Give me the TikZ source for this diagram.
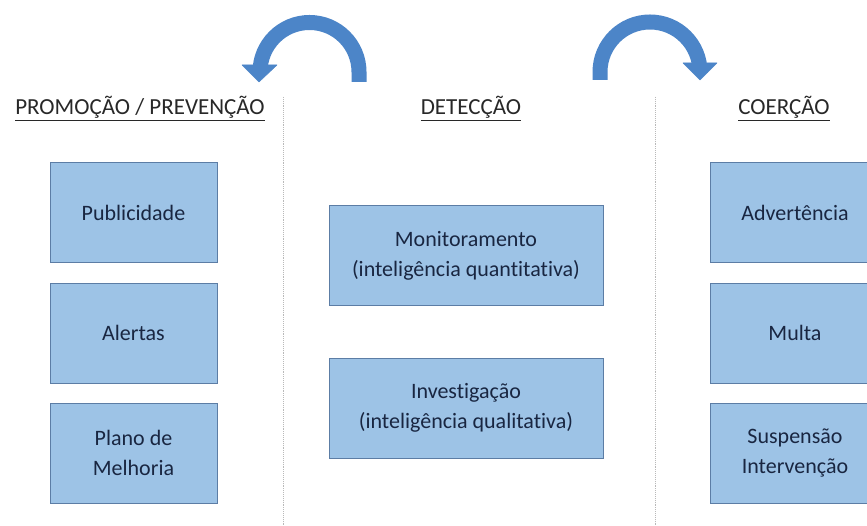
\documentclass[tikz,border=0pt]{standalone}
\usepackage{fontspec}
\setmainfont{Carlito}[Ligatures=NoCommon]
\begin{document}
\begin{tikzpicture}[x=1pt,y=1pt,
  boxstyle/.style={draw=boxedge,fill=boxfill,line width=0.9pt,inner sep=0pt,
    text=boxtext,align=center,font=\fontsize{22}{30}\selectfont},
  headstyle/.style={text=headtext,anchor=base,inner sep=0pt,font=\fontsize{23}{26}\selectfont},
  divider/.style={draw=gray!55,line width=0.9pt,densely dotted},
  bendarrow/.style={draw=arrowblue,line width=15pt},
  headtip/.style={fill=arrowblue,draw=arrowblue,line width=0.5pt,line join=round}]
\definecolor{boxfill}{RGB}{157,195,230}
\definecolor{boxedge}{RGB}{92,125,165}
\definecolor{boxtext}{RGB}{25,38,65}
\definecolor{headtext}{RGB}{40,40,40}
\definecolor{arrowblue}{RGB}{76,133,200}
\useasboundingbox (0,0) rectangle (867,526);
\clip (0,0) rectangle (867,526);
\fill[white] (0,0) rectangle (867,526);

% dividers
\coordinate (d1t) at (283,429);
\coordinate (d1b) at (283,0);
\coordinate (d2t) at (655,429);
\coordinate (d2b) at (655,0);
\draw[divider] (d1t) -- (d1b);
\draw[divider] (d2t) -- (d2b);

% headers
\node[headstyle] (h1) at (140,411) {\underline{PROMOÇÃO / PREVENÇÃO}};
\node[headstyle] (h2) at (471,411) {\underline{DETECÇÃO}};
\node[headstyle] (h3) at (784,411) {\underline{COERÇÃO}};

% left column
\node[boxstyle,minimum width=167,minimum height=100] (pub) at (133.5,313.5) {Publicidade};
\node[boxstyle,minimum width=167,minimum height=100] (ale) at (133.5,193) {Alertas};
\node[boxstyle,minimum width=167,minimum height=100] (pla) at (133.5,73) {Plano de\\Melhoria};

% middle column
\node[boxstyle,minimum width=274,minimum height=100] (mon) at (466,270.5) {Monitoramento\\(inteligência quantitativa)};
\node[boxstyle,minimum width=274,minimum height=100] (inv) at (466,118) {Investigação\\(inteligência qualitativa)};

% right column
\node[boxstyle,minimum width=170,minimum height=100] (adv) at (795,313.5) {Advertência};
\node[boxstyle,minimum width=170,minimum height=100] (mul) at (795,193) {Multa};
\node[boxstyle,minimum width=170,minimum height=100] (sus) at (795,73) {Suspensão\\Intervenção};

% curved arrows
\coordinate (la) at (359,444);
\draw[bendarrow] (la) -- ++(0,10) arc[start angle=0,end angle=180,radius=49.5] -- ++(0,-1);
\coordinate (lt) at (259,444);
\filldraw[headtip] (242,461) -- (277,461) -- (lt) -- cycle;

\coordinate (ra) at (600,446);
\draw[bendarrow] (ra) -- ++(0,8) arc[start angle=180,end angle=0,radius=50] -- ++(0,-1);
\coordinate (rt) at (700,446);
\filldraw[headtip] (683,463) -- (717,463) -- (rt) -- cycle;
\end{tikzpicture}
\end{document}
